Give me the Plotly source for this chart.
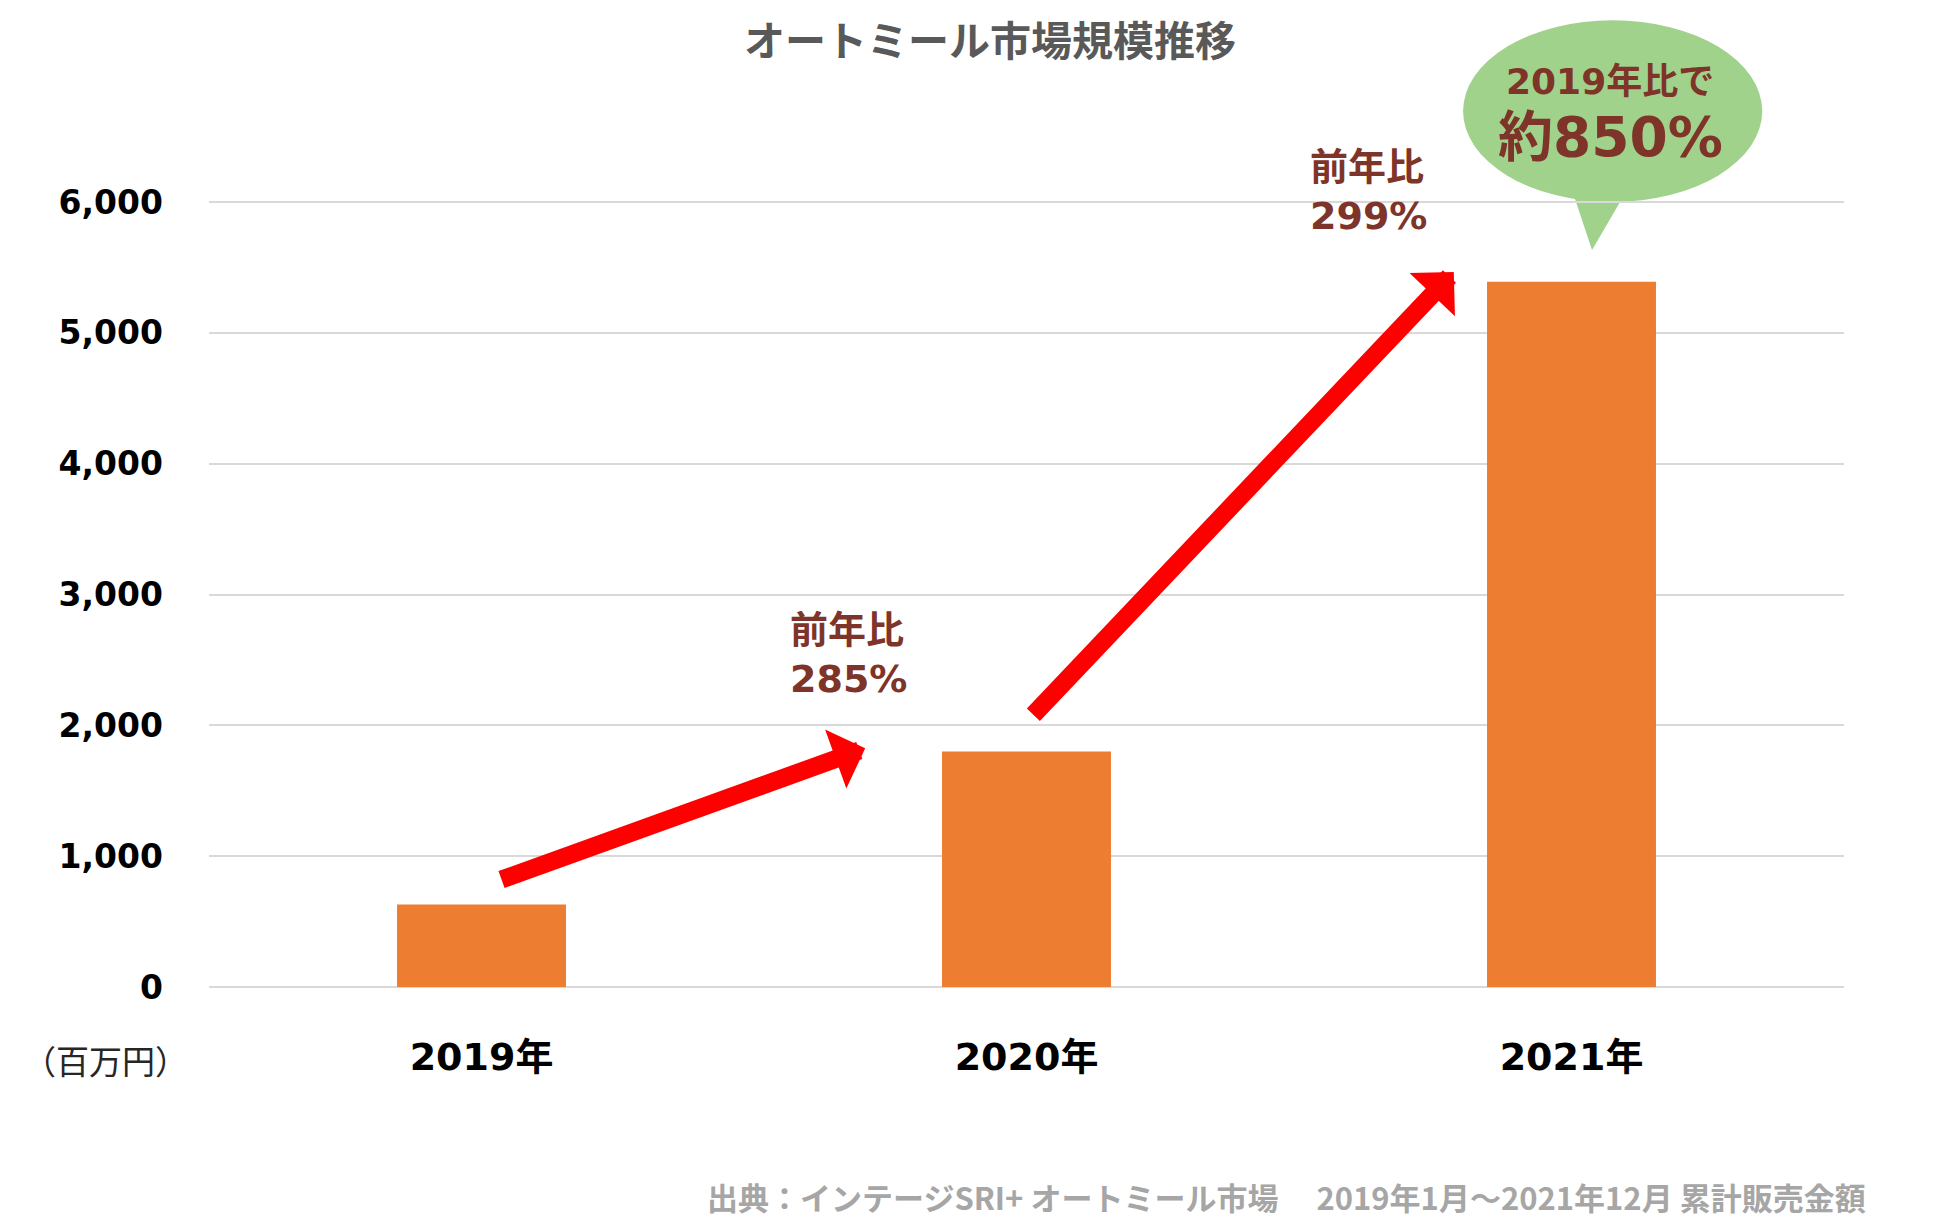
import plotly.graph_objects as go

# data (百万円)
years = ["2019年", "2020年", "2021年"]
sales = [630, 1800, 5390]
yoy_labels = ["前年比<br>285%", "前年比<br>299%"]
bubble_top = "2019年比で"
bubble_main = "約850%"
y_ticks = [0, 1000, 2000, 3000, 4000, 5000, 6000]

title_text = "オートミール市場規模推移"
unit_text = "（百万円）"
source_text = "出典：インテージSRI+ オートミール市場　 2019年1月～2021年12月 累計販売金額"

BAR = "#ED7D31"
RED = "#FF0000"
BROWN = "#7E3428"
GREEN = "#A0D28C"
GRID = "#D9D9D9"
FONT = "DejaVu Sans, Noto Sans CJK JP"

fig = go.Figure()

fig.add_trace(go.Bar(
    x=years,
    y=sales,
    marker=dict(color=BAR, line=dict(width=0)),
    width=0.31,
    hoverinfo="skip",
))

annotations = []

# red arrows (tip x,y / tail ax,ay in axis units)
arrows = [
    dict(x=0.704, y=1824, ax=0.034, ay=817),
    dict(x=1.784, y=5466, ax=1.010, ay=2069),
]
for a in arrows:
    annotations.append(dict(
        x=a["x"], y=a["y"], ax=a["ax"], ay=a["ay"],
        xref="x", yref="y", axref="x", ayref="y",
        text="", showarrow=True, arrowhead=1, arrowwidth=18,
        arrowsize=0.58, arrowcolor=RED, font=dict(size=1),
    ))

# 前年比 labels (x in axis units, y in paper units)
yoy_pos = [(0.6725, 0.4230), (1.627, 1.0127)]
for txt, (xx, yy) in zip(yoy_labels, yoy_pos):
    annotations.append(dict(
        x=xx, y=yy, xref="x", yref="paper", text=txt, showarrow=False,
        xanchor="center", yanchor="middle", align="left",
        font=dict(family=FONT, size=38, color=BROWN, weight="bold"),
    ))

# bubble text
annotations.append(dict(
    x=0.857, y=1.1514, xref="paper", yref="paper", text=bubble_top,
    showarrow=False, xanchor="center", yanchor="middle",
    font=dict(family=FONT, size=36, color=BROWN, weight="bold"),
))
annotations.append(dict(
    x=0.857, y=1.0814, xref="paper", yref="paper", text=bubble_main,
    showarrow=False, xanchor="center", yanchor="middle",
    font=dict(family=FONT, size=55, color=BROWN, weight="bold"),
))

# unit and source
annotations.append(dict(
    x=-0.0636, y=-0.0935, xref="paper", yref="paper", text=unit_text,
    showarrow=False, xanchor="center", yanchor="middle",
    font=dict(family="Noto Sans CJK JP", size=33, color="#262626"),
))
annotations.append(dict(
    x=1.0147, y=-0.267, xref="paper", yref="paper", text=source_text,
    showarrow=False, xanchor="right", yanchor="middle",
    font=dict(family="Noto Sans CJK JP", size=31, color="#A6A6A6", weight="bold"),
))

shapes = [
    dict(type="circle", xref="paper", yref="paper",
         x0=0.767, x1=0.950, y0=0.9987, y1=1.230,
         fillcolor=GREEN, line=dict(width=0), layer="below"),
    dict(type="path", xref="paper", yref="paper",
         path="M 0.8336 1.014 L 0.8673 1.014 L 0.8459 0.9377 Z",
         fillcolor=GREEN, line=dict(width=0), layer="below"),
]

fig.update_layout(
    width=1950,
    height=1230,
    margin=dict(l=209, r=106, t=201, b=243),
    paper_bgcolor="white",
    plot_bgcolor="white",
    showlegend=False,
    bargap=0.69,
    title=dict(
        text=title_text, x=990 / 1950, xanchor="center",
        y=1 - 42 / 1230, yanchor="middle",
        font=dict(family="Noto Sans CJK JP", size=41, color="#595959", weight="bold"),
    ),
    annotations=annotations,
    shapes=shapes,
    xaxis=dict(
        showgrid=False, showline=False, zeroline=False,
        ticks="", ticklabelstandoff=44,
        tickfont=dict(family=FONT, size=38, color="black", weight="bold"),
    ),
    yaxis=dict(
        range=[0, 6008], tickvals=y_ticks, tickformat=",",
        showgrid=True, gridcolor=GRID, gridwidth=1.5,
        zeroline=True, zerolinecolor=GRID, zerolinewidth=1.5,
        showline=False, ticks="", ticklabelstandoff=45,
        tickfont=dict(family=FONT, size=33, color="black", weight="bold"),
    ),
)

fig.write_html("out.html", config={"displayModeBar": False},
               post_script="document.body.style.margin='0px';")
